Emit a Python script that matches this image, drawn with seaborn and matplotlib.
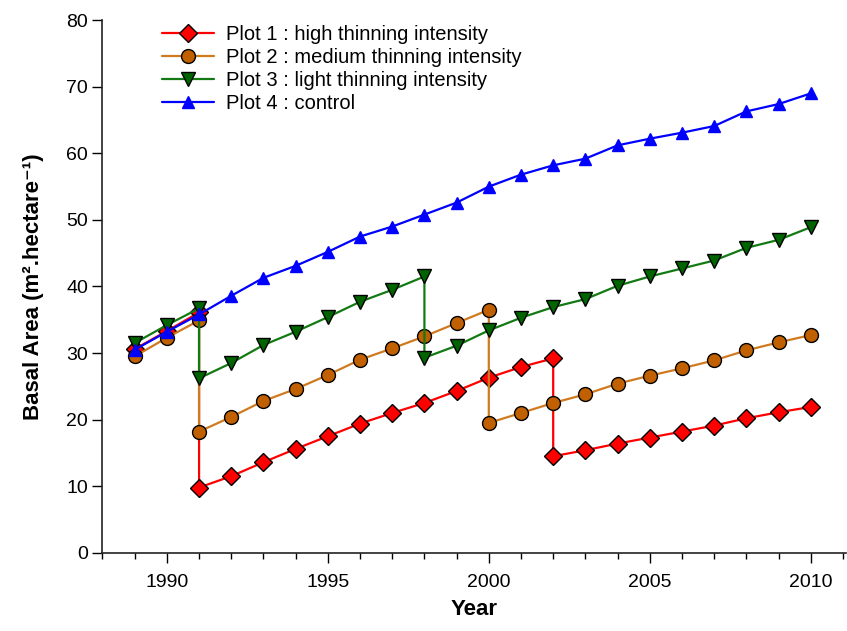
import pandas as pd
import seaborn as sns
import matplotlib.pyplot as plt

# Dados (anos repetidos = desbaste)
years_p1 = [1989, 1990, 1991, 1991, 1992, 1993, 1994, 1995, 1996, 1997, 1998, 1999, 2000, 2001, 2002, 2002,
            2003, 2004, 2005, 2006, 2007, 2008, 2009, 2010]
ba_p1 = [30.6, 33.3, 36.1, 9.8, 11.5, 13.6, 15.6, 17.5, 19.4, 21.0, 22.5, 24.3, 26.3, 27.9, 29.2, 14.5,
         15.4, 16.4, 17.3, 18.2, 19.1, 20.2, 21.1, 21.9]

years_p2 = [1989, 1990, 1991, 1991, 1992, 1993, 1994, 1995, 1996, 1997, 1998, 1999, 2000, 2000, 2001, 2002,
            2003, 2004, 2005, 2006, 2007, 2008, 2009, 2010]
ba_p2 = [29.5, 32.3, 34.9, 18.2, 20.4, 22.8, 24.6, 26.7, 29.0, 30.7, 32.5, 34.5, 36.5, 19.5, 21.0, 22.5,
         23.8, 25.4, 26.6, 27.7, 28.9, 30.4, 31.6, 32.7]

years_p3 = [1989, 1990, 1991, 1991, 1992, 1993, 1994, 1995, 1996, 1997, 1998, 1998, 1999, 2000, 2001, 2002,
            2003, 2004, 2005, 2006, 2007, 2008, 2009, 2010]
ba_p3 = [31.5, 34.2, 36.7, 26.2, 28.5, 31.2, 33.2, 35.4, 37.7, 39.5, 41.5, 29.3, 31.1, 33.4, 35.3, 36.9,
         38.1, 40.1, 41.5, 42.7, 43.9, 45.8, 47.0, 48.9]

years_p4 = [1989, 1990, 1991, 1992, 1993, 1994, 1995, 1996, 1997, 1998, 1999, 2000, 2001, 2002,
            2003, 2004, 2005, 2006, 2007, 2008, 2009, 2010]
ba_p4 = [30.5, 33.2, 35.8, 38.6, 41.3, 43.1, 45.2, 47.5, 49.0, 50.8, 52.6, 55.0, 56.8, 58.2,
         59.2, 61.2, 62.2, 63.1, 64.1, 66.3, 67.4, 69.0]

labels = ['Plot 1 : high thinning intensity', 'Plot 2 : medium thinning intensity',
          'Plot 3 : light thinning intensity', 'Plot 4 : control']

sns.set_style('ticks')
plt.rcParams['font.family'] = ['Liberation Sans', 'DejaVu Sans']
plt.rcParams['text.color'] = 'black'
plt.rcParams['axes.labelcolor'] = 'black'
plt.rcParams['xtick.color'] = 'black'
plt.rcParams['ytick.color'] = 'black'

fig = plt.figure(figsize=(8.47, 6.31), dpi=100)
ax = fig.add_axes([0.121, 0.124, 0.878, 0.844])

series = [
    (years_p1, ba_p1, labels[0], '#FF0000', '#FF0000', 'D', 'black', 9),
    (years_p2, ba_p2, labels[1], '#D07A20', '#C06000', 'o', 'black', 10),
    (years_p3, ba_p3, labels[2], '#137A13', '#006400', 'v', 'black', 10),
    (years_p4, ba_p4, labels[3], '#0000FF', '#0000FF', '^', '#0000FF', 9),
]

for x, y, lab, lc, fc, mk, ec, ms in series:
    df = pd.DataFrame({'Year': x, 'BA': y})
    sns.lineplot(data=df, x='Year', y='BA', estimator=None, sort=False, ax=ax,
                 color=lc, linewidth=1.6, marker=mk, markersize=ms,
                 markerfacecolor=fc, markeredgecolor=ec, markeredgewidth=1.0, label=lab)

ax.set_xlim(1988.0, 2011.1)
ax.set_ylim(0, 80)
ax.set_xticks([1990, 1995, 2000, 2005, 2010])
ax.set_xticks(range(1988, 2012), minor=True)
ax.set_yticks(range(0, 81, 10))
ax.tick_params(axis='both', which='major', labelsize=14, length=7, width=1, direction='out')
ax.tick_params(axis='x', which='minor', length=4, width=1, direction='out')
ax.tick_params(axis='x', pad=8)

ax.set_xlabel('Year', fontsize=16, fontweight='bold', labelpad=6)
ax.set_ylabel('Basal Area (m\u00b2.hectare\u207b\u00b9)', fontsize=16, fontweight='bold', labelpad=16)

sns.despine(ax=ax)
for sp in ['left', 'bottom']:
    ax.spines[sp].set_color('#222222')
    ax.spines[sp].set_linewidth(1.2)

ax.legend(loc='upper left', bbox_to_anchor=(0.055, 1.025), frameon=False, fontsize=14.5,
          handlelength=2.6, labelspacing=0.2, handletextpad=0.6)

plt.savefig('out.png', dpi=100)
